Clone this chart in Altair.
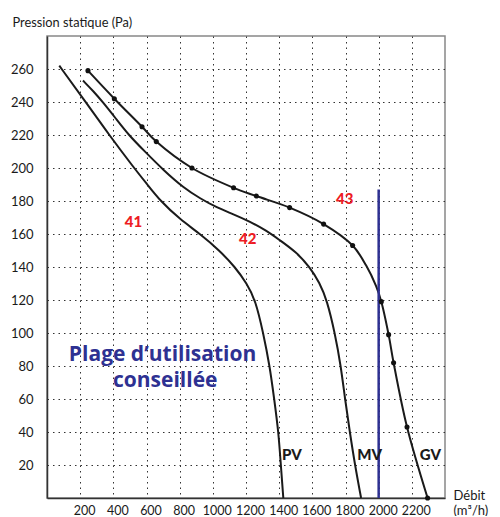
import altair as alt
import pandas as pd

# ---- data ----
pv_x = [74, 233, 375, 525, 605, 684, 800, 924, 1040, 1134, 1205, 1257, 1304, 1343, 1370, 1396, 1410, 1425]
pv_y = [262, 240, 220, 200, 190, 180, 169, 160, 150, 140, 130, 120, 100, 80, 60, 40, 20, 0]

mv_x = [217, 280, 336, 415, 492, 590, 704, 824, 924, 1024, 1124, 1224, 1324, 1400, 1504, 1584, 1644, 1688, 1736, 1772, 1797, 1826, 1857, 1894]
mv_y = [253, 246.5, 240, 230, 220, 210, 198.5, 188, 181.5, 176, 172, 167.5, 162, 156.5, 149, 140, 130.5, 120, 100, 80, 60, 40, 20, 0]

gv_x = [247, 406, 573, 659, 874, 1125, 1262, 1463, 1668, 1843, 1924, 1984, 2016, 2060, 2090, 2171, 2295]
gv_y = [259, 242, 225, 216, 200, 188, 183, 176, 166, 153, 141, 128.5, 119, 99, 82, 43, 0]
gv_dot_x = [247, 406, 573, 659, 874, 1125, 1262, 1463, 1668, 1843, 2016, 2060, 2090, 2171, 2295]
gv_dot_y = [259, 242, 225, 216, 200, 188, 183, 176, 166, 153, 119, 99, 82, 43, 0]

limit_x = [2000]
limit_y = [0]
limit_y2 = [187]

num_labels = ["41", "42", "43"]
num_x = [522, 1210, 1795]
num_y = [167, 157, 181]

size_labels = ["PV", "MV", "GV"]
size_x = [1477, 1946, 2312]
size_y = [26, 26, 26]

zone_lines = ["Plage d\u2019utilisation", "conseill\u00e9e"]
zone_x = [697, 713]
zone_y = [83, 67]

x_ticks = [200, 400, 600, 800, 1000, 1200, 1400, 1600, 1800, 2000, 2200]
y_ticks = [20, 40, 60, 80, 100, 120, 140, 160, 180, 200, 220, 240, 260]

FONT = "Lato"

pv_df = pd.DataFrame({"x": pv_x, "y": pv_y, "curve": "41"})
mv_df = pd.DataFrame({"x": mv_x, "y": mv_y, "curve": "42"})
gv_df = pd.DataFrame({"x": gv_x, "y": gv_y, "curve": "43"})
dots = pd.DataFrame({"x": gv_dot_x, "y": gv_dot_y})
limit = pd.DataFrame({"x": limit_x, "y": limit_y, "y2": limit_y2})
nums = pd.DataFrame({"x": num_x, "y": num_y, "t": num_labels})
sizes = pd.DataFrame({"x": size_x, "y": size_y, "t": size_labels})
zone = pd.DataFrame({"x": zone_x, "y": zone_y, "t": zone_lines})

xs = alt.Scale(domain=[0, 2400], nice=False, zero=False)
ys = alt.Scale(domain=[0, 280], nice=False, zero=False)

X = alt.X("x:Q", scale=xs, axis=alt.Axis(
    values=x_ticks, format="d", ticks=False, labelPadding=6, labelOffset=4,
    labelFontSize=12.5, labelOverlap=False,
    title=["D\u00e9bit", "(m\u00b3/h)"], titleX=406, titleY=1,
    titleAlign="left", titleBaseline="alphabetic", titleFontWeight="normal",
    titleFontSize=13, titleLineHeight=15))
Y = alt.Y("y:Q", scale=ys, axis=alt.Axis(
    values=y_ticks, format="d", ticks=False, labelPadding=14,
    title="Pression statique (Pa)", titleAngle=0, titleX=-35, titleY=-10,
    titleAlign="left", titleBaseline="alphabetic", titleFontWeight="normal",
    titleFontSize=12.8))

line_style = dict(strokeWidth=2, color="#1a1a1a")

pv_line = alt.Chart(pv_df).mark_line(interpolate="basis", **line_style).encode(x=X, y=Y)
mv_line = alt.Chart(mv_df).mark_line(interpolate="basis", **line_style).encode(x=X, y=Y)
gv_line = alt.Chart(gv_df).mark_line(interpolate="catmull-rom", **line_style).encode(x=X, y=Y)

pts = alt.Chart(dots).mark_point(
    filled=True, size=26, color="#111111", opacity=1
).encode(x=X, y=Y)

rule = alt.Chart(limit).mark_rule(color="#2e3192", strokeWidth=2.5).encode(
    x=X, y=Y, y2="y2:Q")

num_text = alt.Chart(nums).mark_text(
    font=FONT, fontSize=15, fontWeight=900, color="#ed1c24",
    align="center", baseline="middle"
).encode(x=X, y=Y, text="t:N")

size_text = alt.Chart(sizes).mark_text(
    font=FONT, fontSize=15, fontWeight=900, color="#1a1a1a",
    align="center", baseline="middle"
).encode(x=X, y=Y, text="t:N")

zone_text = alt.Chart(zone).mark_text(
    font="Open Sans", fontSize=21, fontWeight="bold", color="#2e3192",
    align="center", baseline="alphabetic"
).encode(x=X, y=Y, text="t:N")

chart = alt.layer(pv_line, mv_line, gv_line, rule, pts, num_text, size_text, zone_text).properties(
    width=398, height=462,
    autosize=alt.AutoSizeParams(type="none"),
    padding={"left": 39, "top": 28, "right": 47, "bottom": 18},
).configure_view(
    stroke="#888888", strokeWidth=1.5
).configure_axis(
    labelFont=FONT, titleFont=FONT, labelFontSize=13, labelColor="#1a1a1a",
    titleColor="#1a1a1a", domainColor="#333333", domainWidth=1.5,
    gridColor="#333333", gridDash=[1.5, 4], gridWidth=1, gridOpacity=1
)

chart.save("out.html", embed_options={"renderer": "svg", "actions": False})
